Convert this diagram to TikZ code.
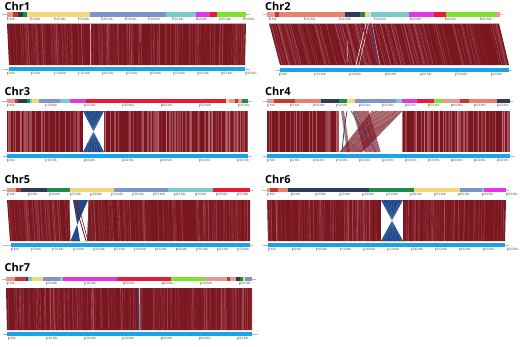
\documentclass[tikz,border=0pt]{standalone}
\usepackage{fontspec}
\setmainfont{Open Sans}
\setsansfont{Open Sans}
\definecolor{salL}{HTML}{E39A92}
\definecolor{redD}{HTML}{C43A2E}
\definecolor{salM}{HTML}{E8826F}
\definecolor{navy}{HTML}{2E3B55}
\definecolor{grn}{HTML}{1F8A4C}
\definecolor{yel}{HTML}{F4D97A}
\definecolor{slate}{HTML}{7E93CC}
\definecolor{tealc}{HTML}{7CC9C9}
\definecolor{mag}{HTML}{E238E2}
\definecolor{redB}{HTML}{E81B37}
\definecolor{lime}{HTML}{80E22B}
\definecolor{bluebar}{HTML}{1BA3E9}
\definecolor{maroon}{HTML}{7A1620}
\definecolor{stripe}{HTML}{D8909A}
\definecolor{invblue}{HTML}{1E4A8A}
\tikzset{
  axisln/.style={gray!55, line width=0.4pt},
  tickln/.style={gray!60, line width=0.25pt},
  ticklab/.style={anchor=west, inner sep=0.4pt, font=\fontsize{3.2}{3.5}\selectfont, text=gray!60!black},
  chrtitle/.style={anchor=west, inner sep=0pt, font=\fontsize{11}{12}\selectfont\bfseries},
  whiteln/.style={white, line width=0.6pt},
}
\newcommand{\mybar}[2]{%
  \foreach \a/\b/\c in {#2}{\fill[\c] (\a,#1-2.3) rectangle (\b,#1+2.3);}%
}
\newcommand{\myticks}[6]{%
  \foreach \m in {0,#5,...,#6}{%
    \draw[tickln] ({#2+#3*\m},#4) -- ({#2+#3*\m},#4+3.4);
    \node[ticklab] (#1\m) at ({#2+#3*\m},#4+1.9) {\m\,Mb};
  }%
}
\newcommand{\myregion}[7]{%
  \fill[maroon] (#1,#5) -- (#2,#5) -- (#4,#6) -- (#3,#6) -- cycle;
  \foreach \k in {1,...,#7}{%
    \pgfmathsetmacro{\rt}{rnd}%
    \pgfmathsetmacro{\ro}{0.12+0.42*rnd}%
    \pgfmathsetmacro{\rw}{0.15+0.35*rnd}%
    \draw[stripe, opacity=\ro, line width=\rw pt] ({#1+\rt*(#2-#1)},#5) -- ({#3+\rt*(#4-#3)},#6);
  }%
}
\newcommand{\hourglass}[4]{%
  \fill[white] (#1,#3) rectangle (#2,#4);
  \fill[invblue] (#1,#3) -- (#2,#3) -- ({(#1+#2)/2},{(#3+#4)/2}) -- cycle;
  \fill[invblue] (#1,#4) -- (#2,#4) -- ({(#1+#2)/2},{(#3+#4)/2}) -- cycle;
  \foreach \t in {0.1,0.3,0.45,0.6,0.8,0.92}{%
    \draw[white, opacity=0.35, line width=0.2pt] ({#1+\t*(#2-#1)},#3) -- ({#2-\t*(#2-#1)},#4);
  }%
}
\begin{document}
\begin{tikzpicture}[x=1pt,y=-1pt]
\pgfmathsetseed{42}
\useasboundingbox (0,0) rectangle (520,346);
\fill[white] (0,0) rectangle (520,346);

% ---------------- Chr1
\node[chrtitle] (t1) at (4.5,6) {Chr1};
\draw[axisln] (2,14.5) -- (250,14.5);
\mybar{14.5}{7/13/salL, 13/18/redD, 18/23/navy, 23/27/grn, 27/90/yel, 90/166/slate, 166/196/tealc, 196/210/mag, 210/217/redB, 217/246/lime}
\myticks{a}{7}{0.472}{17}{50}{500}
\myregion{7}{246}{9}{245}{23.5}{65}{150}
\draw[whiteln, opacity=0.85] (90.5,23.5) -- (90.8,65);
\draw[whiteln, opacity=0.6, line width=0.5pt] (140,23.5) -- (140.2,42);
\draw[axisln] (3,69) -- (250,69);
\fill[bluebar] (9,66.8) rectangle (245,71.2);
\myticks{b}{7}{0.476}{71.5}{50}{500}

% ---------------- Chr2
\node[chrtitle] (t2) at (265,6) {Chr2};
\draw[axisln] (263,14.5) -- (503,14.5);
\mybar{14.5}{267/275/salL, 275/279/redD, 279/345/salM, 345/360/navy, 360/365/grn, 365/368.5/yel, 368.5/370.5/tealc!40, 370.5/409/tealc, 409/434/mag, 434/446/redB, 446/496/lime, 496/499.5/salL}
\myticks{c}{269}{0.352}{17}{100}{600}
\myregion{269}{499}{280}{509}{23.5}{65}{160}
\draw[whiteln] (366,23.5) -- (356,65);
\draw[whiteln, line width=0.4pt] (368.5,23.5) -- (359,65);
\draw[invblue, line width=0.7pt] (370.5,23.5) -- (378,65);
\draw[white, line width=0.3pt] (372,23.5) -- (380,65);
\draw[maroon, line width=1.2pt] (362,23.5) -- (375,65);
\draw[whiteln, opacity=0.8, line width=0.4pt] (348,40) -- (347,63);
\draw[axisln] (276,70) -- (511,70);
\fill[bluebar] (280,67.8) rectangle (509,72.2);
\myticks{d}{279}{0.353}{72.5}{100}{600}

% ---------------- Chr3
\node[chrtitle] (t3) at (4.5,91) {Chr3};
\draw[axisln] (2,101) -- (252,101);
\mybar{101}{7.3/15/salL, 15/18.3/redD, 18.3/26.7/navy, 26.7/30/grn, 30/31.7/tealc, 31.7/39.3/yel, 39.3/60/slate, 60/70/tealc, 70/86/mag, 86/226/redB, 226/229.3/yel, 229.3/235/salL, 235/238.3/redD, 238.3/241.7/salL, 241.7/248.3/grn}
\myticks{e}{7}{0.385}{103.5}{100}{600}
\myregion{7}{248}{7}{248}{111}{152}{150}
\hourglass{83}{104}{111}{152}
\draw[axisln] (3,156) -- (252,156);
\fill[bluebar] (7,153.8) rectangle (248,158.2);
\myticks{f}{7}{0.384}{158.5}{100}{600}

% ---------------- Chr4
\node[chrtitle] (t4) at (265,91) {Chr4};
\draw[axisln] (263,101) -- (513,101);
\mybar{101}{266.7/274/salL, 274/295/redD, 295/320.7/salM, 320.7/339/navy, 339/346.7/grn, 346.7/355/yel, 355/396/slate, 396/401.7/tealc, 401.7/417.3/mag, 417.3/434/redB, 434/442.7/lime, 442.7/460/salL, 460/469.3/redD, 469.3/497.3/salM, 497.3/510/navy}
\myticks{g}{267}{0.46}{103.5}{50}{500}
\myregion{267}{510}{267}{510}{111}{152}{150}
\fill[white] (339,111) rectangle (402,152);
\fill[maroon!85, opacity=0.7] (341,111) -- (344,111) -- (350,152) -- (347,152) -- cycle;
\foreach \s in {0,0.05,...,1}{%
  \draw[maroon, opacity=0.75, line width=0.7pt] ({353+16*\s},111) -- ({365+16*\s},152);
}
\foreach \s in {0,0.04,...,1}{%
  \draw[maroon, opacity=0.75, line width=0.7pt] ({372+30*\s},111) -- ({340+22*\s},152);
}
\draw[invblue, line width=0.8pt] (347,111) .. controls (344,130) .. (342,152);
\draw[invblue, line width=0.6pt] (351,111) -- (376,152);
\foreach \s in {0.2,0.5,0.8}{\draw[stripe, opacity=0.4, line width=0.3pt] ({353+16*\s},111) -- ({365+16*\s},152);}
\foreach \s in {0.25,0.6}{\draw[stripe, opacity=0.4, line width=0.3pt] ({372+30*\s},111) -- ({340+22*\s},152);}
\draw[axisln] (263,156) -- (514,156);
\fill[bluebar] (267,153.8) rectangle (510,158.2);
\myticks{h}{267}{0.46}{158.5}{50}{500}

% ---------------- Chr5
\node[chrtitle] (t5) at (4.5,179) {Chr5};
\draw[axisln] (2,190) -- (253,190);
\mybar{190}{7.3/16/salL, 16/20.7/redD, 20.7/46.7/navy, 46.7/70/grn, 70/114.3/yel, 114.3/167.7/slate, 167.7/213.3/tealc, 213.3/250/redB}
\myticks{i}{7}{0.418}{192.5}{50}{550}
\myregion{7}{250}{10}{250}{200}{241}{150}
\fill[white] (69.5,200) -- (88.5,200) -- (87,241) -- (70.5,241) -- cycle;
\fill[invblue] (73,200) -- (88,200) -- (77.2,224.6) -- cycle;
\fill[invblue] (70.5,241) -- (80,241) -- (77.2,224.6) -- cycle;
\draw[maroon, line width=0.8pt] (74,200) -- (86,241);
\draw[maroon, line width=0.6pt] (77,200) -- (88,241);
\draw[axisln] (3,245) -- (253,245);
\fill[bluebar] (11,242.8) rectangle (250,247.2);
\myticks{j}{11}{0.412}{247.5}{50}{550}

% ---------------- Chr6
\node[chrtitle] (t6) at (265,179) {Chr6};
\draw[axisln] (262,190) -- (509,190);
\mybar{190}{266.7/270/salL, 270/278.3/redD, 278.3/288.3/salM, 288.3/369.3/navy, 369.3/414.3/grn, 414.3/460/yel, 460/482.3/slate, 482.3/484.3/tealc, 484.3/506/mag}
\myticks{k}{267}{0.478}{192.5}{50}{500}
\myregion{267}{506}{268}{505}{200}{241}{150}
\hourglass{381}{403}{200}{241}
\draw[axisln] (263,245) -- (509,245);
\fill[bluebar] (268,242.8) rectangle (505,247.2);
\myticks{l}{268}{0.478}{247.5}{50}{500}

% ---------------- Chr7
\node[chrtitle] (t7) at (4.5,267) {Chr7};
\draw[axisln] (2,279) -- (256,279);
\mybar{279}{5.7/15/salL, 15/26/redD, 26/28.3/navy, 28.3/31.7/tealc, 31.7/43.3/yel, 43.3/60/slate, 60/63.3/tealc, 63.3/117.3/mag, 117.3/170.7/redB, 170.7/206/lime, 206/226.7/salL, 226.7/230/redD, 230/236/salL, 236/240/navy, 240/242.7/grn, 242.7/245/yel, 245/251.7/slate}
\myticks{m}{7}{0.387}{281.5}{100}{600}
\myregion{6}{252}{7}{252}{288}{330}{160}
\draw[invblue, line width=0.9pt] (138,288) -- (138.4,330);
\draw[white, line width=0.5pt] (139.6,288) -- (140,330);
\draw[invblue, opacity=0.5, line width=0.4pt] (27,290) -- (27.5,330);
\draw[axisln] (3,334) -- (258,334);
\fill[bluebar] (7,331.8) rectangle (252,336.2);
\myticks{n}{8}{0.382}{336.5}{100}{600}
\end{tikzpicture}
\end{document}
